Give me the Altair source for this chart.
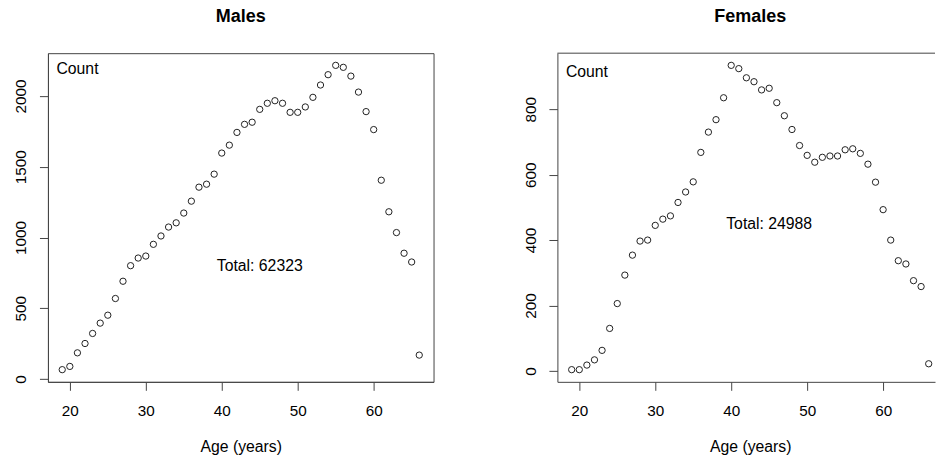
import altair as alt
import pandas as pd

ages = list(range(19, 67))
males = [66, 89, 185, 251, 322, 395, 451, 569, 691, 801,
         855, 869, 952, 1011, 1074, 1104, 1173, 1257, 1356, 1377,
         1448, 1597, 1653, 1743, 1800, 1815, 1906, 1949, 1967, 1949,
         1885, 1885, 1923, 1991, 2078, 2151, 2217, 2203, 2141, 2028,
         1890, 1763, 1405, 1182, 1035, 889, 827, 169]
females = [4, 4, 18, 34, 63, 130, 206, 293, 354, 397,
           400, 445, 464, 474, 515, 547, 578, 668, 730, 768,
           835, 934, 924, 896, 884, 859, 864, 820, 780, 738,
           689, 659, 638, 653, 657, 657, 676, 679, 665, 632,
           577, 493, 400, 337, 327, 276, 258, 22]
x_ticks = [20, 30, 40, 50, 60]
male_ticks = [0, 500, 1000, 1500, 2000]
female_ticks = [0, 200, 400, 600, 800]
titles = ["Males", "Females"]
totals = ["Total: 62323", "Total: 24988"]

FONT = "Liberation Sans"
LINE = "#444444"
TXT = 15.8


def panel(title, values, ydom, yticks, total, total_y, width, xmax, title_dx, count_y, framed):
    df = pd.DataFrame({"age": ages, "count": values})
    xs = alt.Scale(domain=[17.12, xmax], nice=False, zero=False)
    ys = alt.Scale(domain=ydom, nice=False, zero=False)
    xaxis = alt.Axis(values=x_ticks, format="d", title="Age (years)", titleX=193, titleY=70,
                     titleBaseline="alphabetic", titleAlign="center",
                     labelBaseline="alphabetic", labelPadding=25, labelFlush=False,
                     labelOverlap=False)
    yaxis = alt.Axis(values=yticks, format="d", title="Count", titleAngle=0, titleX=8,
                     titleY=count_y, titleAlign="left", titleBaseline="alphabetic",
                     labelAngle=270, labelAlign="center", labelBaseline="alphabetic",
                     labelPadding=13.5, labelOverlap=False)
    pts = alt.Chart(df).mark_point(shape="circle", filled=False, size=40,
                                   strokeWidth=1, color="#222222", opacity=1).encode(
        x=alt.X("age:Q", scale=xs, axis=xaxis),
        y=alt.Y("count:Q", scale=ys, axis=yaxis),
    )
    one = pd.DataFrame({"k": [0]})
    txt = alt.Chart(one).mark_text(font=FONT, fontSize=TXT, align="center",
                                   baseline="middle", color="black").encode(
        x=alt.datum(45), y=alt.datum(total_y), text=alt.value(total))
    layers = [pts, txt]
    if not framed:
        top = alt.Chart(one).mark_rule(color=LINE, strokeWidth=1).encode(
            x=alt.value(0), x2=alt.value(width), y=alt.value(0))
        layers.append(top)
    ch = alt.layer(*layers).properties(
        width=width, height=329,
        title=alt.TitleParams(text=title, font=FONT, fontSize=18, fontWeight="bold",
                              offset=13, baseline="alphabetic", anchor="middle",
                              frame="group", dx=title_dx, color="black"),
    )
    if not framed:
        ch = ch.properties(view=alt.ViewBackground(stroke=None))
    return ch


m = panel(titles[0], males, [-20, 2303], male_ticks, totals[0], 800, 386, 67.88, 0, 20, True)
f = panel(titles[1], females, [-33.2, 971.2], female_ticks, totals[1], 450, 378, 66.83, 4, 23.5, False)

chart = alt.hconcat(m, f, spacing=124, bounds="flush").configure(
    padding={"left": 13, "top": 7, "right": 0, "bottom": 0},
    background="white",
).configure_view(stroke=LINE, strokeWidth=1).configure_axis(
    labelFont=FONT, labelFontSize=15.3, labelColor="black",
    titleFont=FONT, titleFontSize=TXT, titleFontWeight="normal", titleColor="black",
    tickColor=LINE, tickSize=8.5, tickWidth=1, domainColor=LINE, domainWidth=1,
    grid=False,
)

chart.save("out.html", embed_options={"renderer": "svg", "actions": False})
